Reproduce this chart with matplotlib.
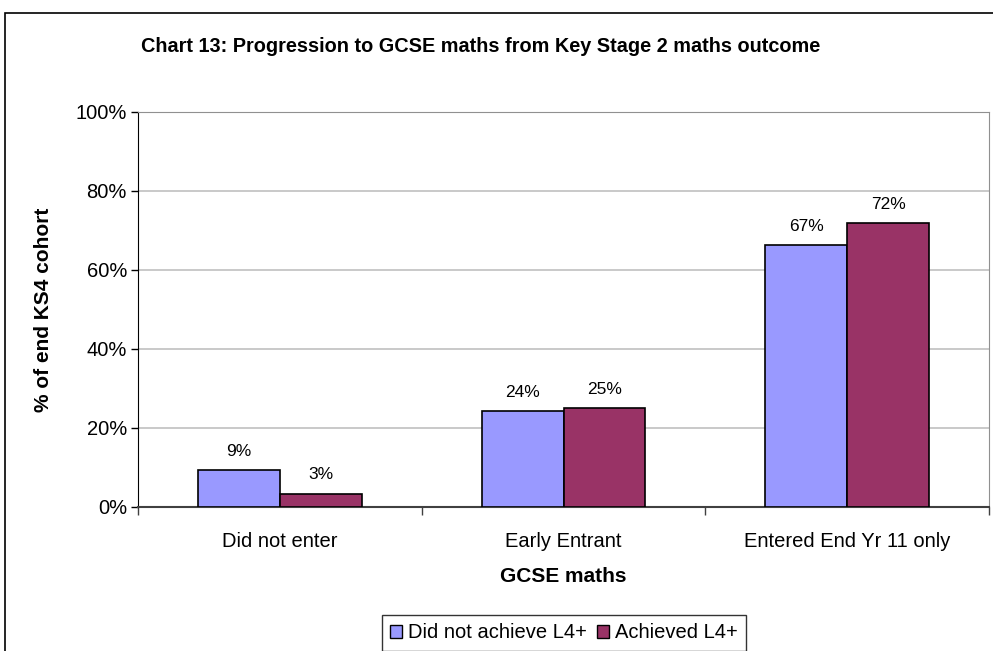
import numpy as np
import matplotlib.pyplot as plt
from matplotlib.patches import Rectangle, Patch

plt.rcParams['font.family'] = ['Liberation Sans', 'DejaVu Sans']

# data
categories = ['Did not enter', 'Early Entrant', 'Entered End Yr 11 only']
not_achieved = [9.3, 24.2, 66.3]
achieved = [3.4, 25.0, 71.9]
not_achieved_lbl = ['9%', '24%', '67%']
achieved_lbl = ['3%', '25%', '72%']
series_names = ['Did not achieve L4+', 'Achieved L4+']

col_a = '#9999FF'
col_b = '#993366'

fig = plt.figure(figsize=(9.93, 6.51), dpi=100)
ax = fig.add_axes([0.139, 0.2212, 0.857, 0.607])

# outer chart border
fig.patches.append(Rectangle((5/993, -0.05), 1.2, 1 - 13/651 + 0.05,
                             transform=fig.transFigure, fill=False,
                             edgecolor='black', lw=1.2, clip_on=False))

x = np.arange(len(categories))
w = 0.288
b1 = ax.bar(x - w/2, not_achieved, w, color=col_a, edgecolor='black', lw=1.2, zorder=3)
b2 = ax.bar(x + w/2, achieved, w, color=col_b, edgecolor='black', lw=1.2, zorder=3)

for bars, lbls in ((b1, not_achieved_lbl), (b2, achieved_lbl)):
    for r, t in zip(bars, lbls):
        ax.annotate(t, (r.get_x() + r.get_width()/2, r.get_height()),
                    xytext=(0, 8), textcoords='offset points',
                    ha='center', va='bottom', fontsize=12.5)

ax.set_ylim(0, 100)
ax.set_xlim(-0.5, 2.5)
ax.set_yticks(np.arange(0, 101, 20))
ax.set_yticklabels([f'{v}%' for v in range(0, 101, 20)], fontsize=14.5)
ax.yaxis.grid(True, color='#c0c0c0', lw=1.2, zorder=0)
ax.tick_params(axis='y', length=5, width=1, pad=3, color='black')

ax.set_xticks(x)
ax.set_xticklabels(categories, fontsize=14.5)
ax.tick_params(axis='x', which='major', length=0, pad=18)
ax.set_xticks([-0.5, 0.5, 1.5, 2.5], minor=True)
ax.tick_params(axis='x', which='minor', length=6, width=1, color='#404040')

for s in ('top', 'right'):
    ax.spines[s].set_color('#909090')
ax.spines['left'].set_color('black')
ax.spines['bottom'].set_color('#404040')
ax.spines['bottom'].set_linewidth(1.5)

ax.set_ylabel('% of end KS4 cohort', fontsize=15, fontweight='bold')
ax.yaxis.set_label_coords(-0.1, 0.5)
ax.set_xlabel('GCSE maths', fontsize=15, fontweight='bold', va='top')
ax.xaxis.set_label_coords(0.5, -0.152)

fig.text(481/993, 1 - 47/651, 'Chart 13: Progression to GCSE maths from Key Stage 2 maths outcome',
         ha='center', va='center', fontsize=14.3, fontweight='bold')

handles = [Patch(facecolor=col_a, edgecolor='black'), Patch(facecolor=col_b, edgecolor='black')]
leg = fig.legend(handles, series_names, loc='center', bbox_to_anchor=(564/993, 1 - 633/651),
                 ncol=2, fontsize=14.5, frameon=True, fancybox=False, edgecolor='black',
                 handlelength=0.6, handleheight=0.6, handletextpad=0.3, columnspacing=0.5,
                 borderpad=0.4)
leg.get_frame().set_linewidth(1)

fig.savefig('out.png', dpi=100)
